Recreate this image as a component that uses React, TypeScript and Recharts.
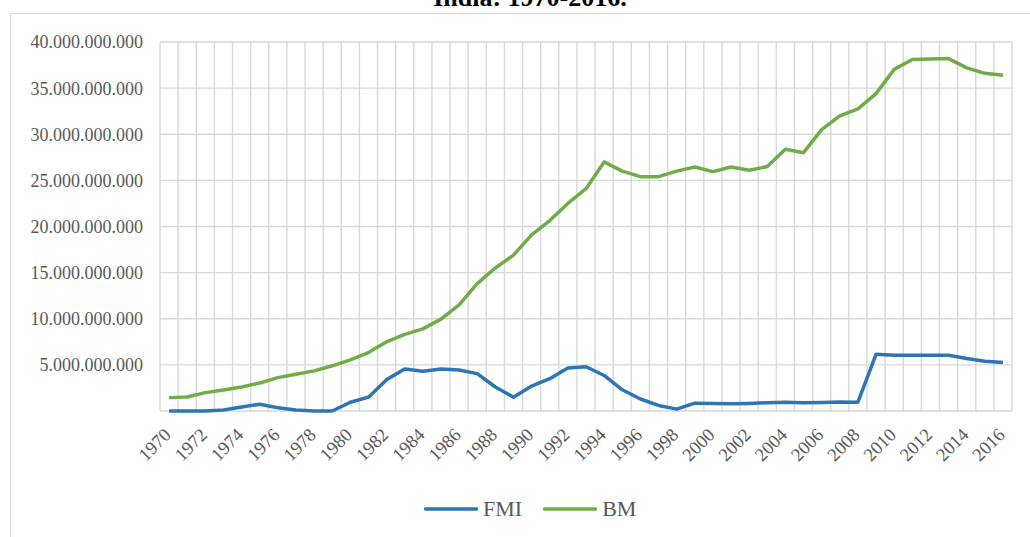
import { CartesianGrid, Legend, Line, LineChart, XAxis, YAxis } from 'recharts';

const years = [
  '1970', '1971', '1972', '1973', '1974', '1975', '1976', '1977', '1978', '1979',
  '1980', '1981', '1982', '1983', '1984', '1985', '1986', '1987', '1988', '1989',
  '1990', '1991', '1992', '1993', '1994', '1995', '1996', '1997', '1998', '1999',
  '2000', '2001', '2002', '2003', '2004', '2005', '2006', '2007', '2008', '2009',
  '2010', '2011', '2012', '2013', '2014', '2015', '2016'
];

// FMI, USD
const fmi = [
  0, 0, 0, 0.1e9, 0.43e9, 0.73e9, 0.36e9, 0.1e9, 0, 0,
  0.95e9, 1.5e9, 3.4e9, 4.55e9, 4.3e9, 4.55e9, 4.45e9, 4.05e9, 2.6e9, 1.5e9,
  2.7e9, 3.5e9, 4.65e9, 4.8e9, 3.85e9, 2.3e9, 1.3e9, 0.6e9, 0.2e9, 0.85e9,
  0.8e9, 0.78e9, 0.82e9, 0.9e9, 0.95e9, 0.9e9, 0.93e9, 0.97e9, 0.96e9, 6.15e9,
  6.05e9, 6.05e9, 6.05e9, 6.05e9, 5.7e9, 5.4e9, 5.25e9
];

// BM, USD
const bm = [
  1.45e9, 1.52e9, 1.99e9, 2.28e9, 2.6e9, 3.04e9, 3.62e9, 3.99e9, 4.35e9, 4.9e9,
  5.54e9, 6.34e9, 7.5e9, 8.3e9, 8.9e9, 9.96e9, 11.5e9, 13.8e9, 15.5e9, 16.9e9,
  19.1e9, 20.65e9, 22.5e9, 24.1e9, 27.0e9, 26.0e9, 25.4e9, 25.4e9, 26.0e9, 26.45e9,
  25.95e9, 26.45e9, 26.1e9, 26.5e9, 28.37e9, 28.0e9, 30.5e9, 32.0e9, 32.75e9, 34.4e9,
  37.03e9, 38.1e9, 38.15e9, 38.2e9, 37.2e9, 36.6e9, 36.4e9
];

const yTicks = [0, 5e9, 10e9, 15e9, 20e9, 25e9, 30e9, 35e9, 40e9];
const seriesOrder = ['FMI', 'BM'];

const data = years.map((year, i) => ({ year, FMI: fmi[i], BM: bm[i] }));

const FONT = '"Liberation Serif", "Times New Roman", serif';
const GRAY = '#595959';
const GRID = '#d9d9d9';
const BLUE = '#2e75b6';
const GREEN = '#70ad47';

const fmtNum = (v: number) => (v === 0 ? '' : String(Math.round(v)).replace(/\B(?=(\d{3})+(?!\d))/g, '.'));

function YearTick(props: any) {
  const { x, y, payload } = props;
  return (
    <g transform={`translate(${x + 3},${y + 25})`}>
      <text textAnchor="end" transform="rotate(-45)" fill={GRAY} fontSize={18.5} fontFamily={FONT}>
        {payload.value}
      </text>
    </g>
  );
}

function LegendBox(props: any) {
  const items = [...(props.payload || [])].sort(
    (a: any, b: any) => seriesOrder.indexOf(a.value) - seriesOrder.indexOf(b.value)
  );
  return (
    <div style={{ display: 'flex', alignItems: 'center', fontFamily: FONT, fontSize: 22, color: GRAY }}>
      {items.map((it: any, i: number) => (
        <div key={it.value} style={{ display: 'flex', alignItems: 'center', marginLeft: i === 0 ? 0 : 21 }}>
          <svg width={54} height={6}>
            <line x1={1.5} y1={3} x2={52.5} y2={3} stroke={it.color} strokeWidth={3.5} strokeLinecap="round" />
          </svg>
          <span style={{ marginLeft: 5, lineHeight: '24px' }}>{it.value}</span>
        </div>
      ))}
    </div>
  );
}

export default function App() {
  return (
    <div style={{ position: 'absolute', left: 0, top: 0, width: 1030, height: 537, overflow: 'hidden', background: '#fff' }}>
      <div style={{ position: 'absolute', left: 10, top: 13, width: 1100, height: 600, border: `1px solid ${GRID}` }} />
      <svg width={1030} height={30} style={{ position: 'absolute', left: 0, top: 0 }}>
        <text x={530} y={6} textAnchor="middle" fontFamily={FONT} fontWeight="bold" fontSize={26} fill="#000">
          India: 1970-2016.
        </text>
      </svg>
      <div style={{ position: 'absolute', left: 0, top: 0 }}>
        <LineChart width={1030} height={537} data={data} margin={{ top: 42, right: 18, left: 10, bottom: 66 }}>
          <CartesianGrid
            stroke={GRID}
            strokeWidth={1.4}
            verticalCoordinatesGenerator={({ offset }: any) =>
              years.concat(['']).map((_, i) => offset.left + (i * offset.width) / years.length)
            }
          />
          <XAxis
            dataKey="year"
            scale="band"
            interval={1}
            tickLine={false}
            axisLine={false}
            tickSize={0}
            tickMargin={0}
            height={60}
            tick={<YearTick />}
          />
          <YAxis
            domain={[0, 40e9]}
            ticks={yTicks}
            width={150}
            axisLine={false}
            tickLine={false}
            tickSize={0}
            tickMargin={17}
            tickFormatter={fmtNum}
            tick={{ fill: GRAY, fontSize: 18, fontFamily: FONT }}
          />
          <Line type="linear" dataKey="FMI" stroke={BLUE} strokeWidth={3.5} dot={false} strokeLinejoin="round" isAnimationActive={false} />
          <Line type="linear" dataKey="BM" stroke={GREEN} strokeWidth={3.5} dot={false} strokeLinejoin="round" isAnimationActive={false} />
          <Legend
            layout="horizontal"
            verticalAlign="middle"
            align="center"
            content={<LegendBox />}
            wrapperStyle={{ top: 497, left: 424, width: 300 }}
          />
        </LineChart>
      </div>
    </div>
  );
}
